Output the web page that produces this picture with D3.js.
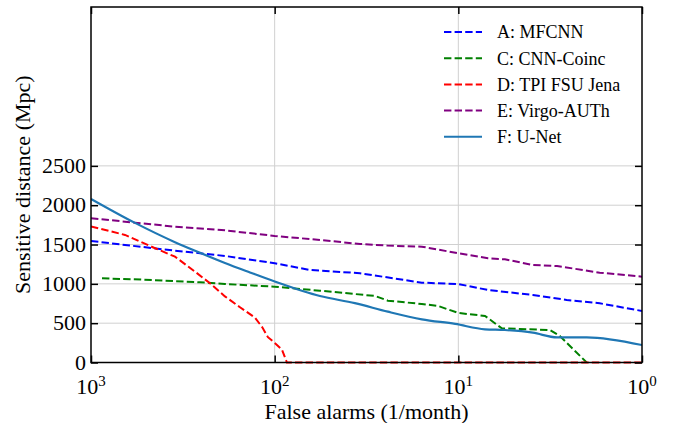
<!DOCTYPE html>
<html>
<head>
<meta charset="utf-8">
<script src="https://cdn.jsdelivr.net/npm/d3@7"></script>
<style>
  body { margin: 0; background: #fff; }
</style>
</head>
<body>
<svg width="673" height="423" font-family="'Liberation Serif', 'Times New Roman', Times, serif"></svg>
<script>
// Данные: число ложных срабатываний (1/month) и чувствительная дистанция (Mpc)
const faA   = [1000, 653, 411, 255, 186.5, 100, 64.3, 34.3, 15.8, 10, 6.9, 3.93, 2.57, 1.7, 1];
const distA = [1545, 1495, 1440, 1389, 1355, 1262, 1177, 1135, 1015, 998, 922, 859, 795, 753, 655];

const faC   = [871, 466, 255, 186.5, 100, 56.7, 28.4, 24.2, 15.8, 12.9, 10, 7.16, 5.8, 3.17, 2.8, 2.0];
const distC = [1071, 1049, 1020, 998, 964, 913, 846, 786, 744, 719, 630, 592, 435, 413, 337, 0];

const faD   = [1000, 653, 448, 349, 271.5, 225, 186.5, 154.5, 128, 117, 108.8, 100, 91.3, 85.8, 1];
const distD = [1730, 1622, 1453, 1346, 1155, 1007, 840, 703, 570, 450, 322, 250, 165, 0, 0];

const faE   = [1000, 576, 349, 186.5, 100, 56.7, 34.3, 24.2, 15.8, 10, 6.9, 5.58, 3.93, 2.9, 1.7, 1];
const distE = [1834, 1778, 1727, 1680, 1609, 1558, 1507, 1486, 1473, 1389, 1325, 1312, 1240, 1227, 1142, 1091];

const faF   = [1000, 576, 349, 255, 186.5, 136.3, 100, 56.7, 36.6, 24.2, 15.8, 10.4, 7.16, 5.58, 3.93, 2.9, 2.0, 1];
const distF = [2080, 1775, 1530, 1395, 1265, 1145, 1030, 845, 755, 646, 549, 490, 422, 413, 379, 320, 320, 222];

const seriesNames  = ["A: MFCNN", "C: CNN-Coinc", "D: TPI FSU Jena", "E: Virgo-AUTh", "F: U-Net"];
const seriesColors = ["#0000ff", "#008000", "#ff0000", "#800080", "#1f77b4"];
const seriesDashed = [true, true, true, true, false];

const xTicks = [1000, 100, 10, 1];
const xTickExp = ["3", "2", "1", "0"];
const yTicks = [0, 500, 1000, 1500, 2000, 2500];

const svg = d3.select("svg");
const plotL = 91, plotR = 642, plotT = 7, plotB = 362.5;

const x = d3.scaleLog().domain([1000, 1]).range([plotL, plotR]);
const y = d3.scaleLinear().domain([0, 4520]).range([plotB, plotT]);

// Сетка
const grid = svg.append("g").attr("stroke", "#d0d0d0").attr("stroke-width", 1);
grid.selectAll("line.gx").data([100, 10]).join("line")
    .attr("class", "gx")
    .attr("x1", d => x(d)).attr("x2", d => x(d))
    .attr("y1", plotT).attr("y2", plotB);
grid.selectAll("line.gy").data(yTicks.slice(1)).join("line")
    .attr("class", "gy")
    .attr("x1", plotL).attr("x2", plotR)
    .attr("y1", d => y(d)).attr("y2", d => y(d));

// Линии
svg.append("clipPath").attr("id", "plot")
    .append("rect").attr("x", plotL).attr("y", plotT - 2)
    .attr("width", plotR - plotL).attr("height", plotB - plotT + 4);

const allSeries = [
    {fa: faA, dist: distA},
    {fa: faC, dist: distC},
    {fa: faD, dist: distD},
    {fa: faE, dist: distE},
    {fa: faF, dist: distF}
];

const lines = svg.append("g").attr("clip-path", "url(#plot)");
allSeries.forEach((s, i) => {
    const pts = s.fa.map((f, j) => [f, s.dist[j]]);
    // U-Net на рисунке гладкая, остальные — ломаные
    const line = d3.line()
        .x(d => x(d[0]))
        .y(d => y(d[1]))
        .curve(seriesDashed[i] ? d3.curveLinear : d3.curveMonotoneX);
    lines.append("path")
        .attr("d", line(pts))
        .attr("fill", "none")
        .attr("stroke", seriesColors[i])
        .attr("stroke-width", seriesDashed[i] ? 2 : 2.2)
        .attr("stroke-dasharray", seriesDashed[i] ? "7.4,3.2" : null);
});

// Оси: засечки внутрь на всех четырёх сторонах
const tickLen = 7;
const axisStyle = g => {
    g.select(".domain").remove();
    g.selectAll(".tick line").attr("stroke", "#000").attr("stroke-width", 1.5);
    g.selectAll(".tick text").remove();
};
svg.append("g").attr("transform", `translate(0,${plotB})`)
    .call(d3.axisBottom(x).tickValues(xTicks).tickSize(-tickLen)).call(axisStyle);
svg.append("g").attr("transform", `translate(0,${plotT})`)
    .call(d3.axisTop(x).tickValues(xTicks).tickSize(-tickLen)).call(axisStyle);
svg.append("g").attr("transform", `translate(${plotL},0)`)
    .call(d3.axisLeft(y).tickValues(yTicks).tickSize(-tickLen)).call(axisStyle);
svg.append("g").attr("transform", `translate(${plotR},0)`)
    .call(d3.axisRight(y).tickValues(yTicks).tickSize(-tickLen)).call(axisStyle);

// Рамка
svg.append("rect")
    .attr("x", plotL).attr("y", plotT)
    .attr("width", plotR - plotL).attr("height", plotB - plotT)
    .attr("fill", "none").attr("stroke", "#000").attr("stroke-width", 1.5);

// Подписи засечек
const xl = svg.append("g");
xTicks.forEach((t, i) => {
    const txt = xl.append("text")
        .attr("x", x(t)).attr("y", 394)
        .attr("text-anchor", "middle")
        .attr("font-size", 22);
    txt.append("tspan").text("10");
    txt.append("tspan").attr("dy", -8).attr("font-size", 15).text(xTickExp[i]);
});
svg.append("g").selectAll("text").data(yTicks).join("text")
    .attr("x", 86).attr("y", d => y(d))
    .attr("dy", "0.33em")
    .attr("text-anchor", "end")
    .attr("font-size", 22)
    .text(d => d);

// Подписи осей
svg.append("text")
    .attr("x", (plotL + plotR) / 2).attr("y", 419)
    .attr("text-anchor", "middle")
    .attr("font-size", 22)
    .text("False alarms (1/month)");
svg.append("text")
    .attr("transform", `translate(30,${(plotT + plotB) / 2}) rotate(-90)`)
    .attr("text-anchor", "middle")
    .attr("font-size", 22)
    .text("Sensitive distance (Mpc)");

// Легенда
const legend = svg.append("g");
seriesNames.forEach((name, i) => {
    const ly = 32 + i * 26.2;
    legend.append("line")
        .attr("x1", 444).attr("x2", 482)
        .attr("y1", ly).attr("y2", ly)
        .attr("stroke", seriesColors[i])
        .attr("stroke-width", 2)
        .attr("stroke-dasharray", seriesDashed[i] ? "7.4,3.2" : null);
    legend.append("text")
        .attr("x", 497).attr("y", ly)
        .attr("dy", "0.35em")
        .attr("font-size", 18)
        .text(name);
});
</script>
</body>
</html>
